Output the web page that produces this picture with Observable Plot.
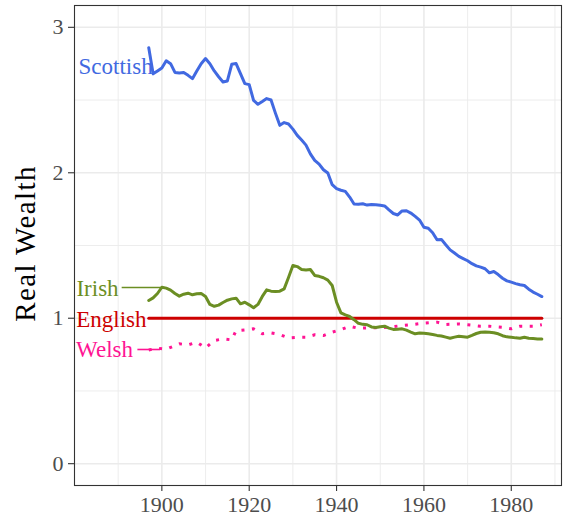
<!DOCTYPE html>
<html>
<head>
<meta charset="utf-8">
<script src="https://cdn.jsdelivr.net/npm/d3@7"></script>
<script src="https://cdn.jsdelivr.net/npm/@observablehq/plot@0.6"></script>
<style>
  html, body { margin: 0; padding: 0; background: #fff; }
  #chart { width: 563px; height: 523px; }
  #chart svg, #chart svg text { font-family: 'Liberation Serif', 'DejaVu Serif', serif !important; }
</style>
</head>
<body>
<div id="chart"></div>
<script>
// ---- data ----
const scotYears = [1897,1898,1899,1900,1901,1902,1903,1904,1905,1906,1907,1908,1909,1910,1911,1912,1913,1914,1915,1916,1917,1918,1919,1920,1921,1922,1923,1924,1925,1926,1927,1928,1929,1930,1931,1932,1933,1934,1935,1936,1937,1938,1939,1940,1941,1942,1943,1944,1945,1946,1947,1948,1949,1950,1951,1952,1953,1954,1955,1956,1957,1958,1959,1960,1961,1962,1963,1964,1965,1966,1967,1968,1969,1970,1971,1972,1973,1974,1975,1976,1977,1978,1979,1980,1981,1982,1983,1984,1985,1986,1987];
const scotValues = [2.86,2.68,2.70,2.72,2.77,2.75,2.69,2.686,2.689,2.67,2.647,2.70,2.75,2.785,2.75,2.70,2.66,2.624,2.631,2.746,2.751,2.682,2.613,2.606,2.498,2.471,2.49,2.51,2.50,2.41,2.326,2.345,2.335,2.30,2.257,2.225,2.19,2.13,2.085,2.06,2.021,1.998,1.918,1.891,1.88,1.872,1.833,1.785,1.783,1.787,1.778,1.782,1.78,1.776,1.772,1.745,1.72,1.71,1.738,1.739,1.723,1.70,1.675,1.626,1.619,1.588,1.54,1.542,1.505,1.47,1.448,1.425,1.41,1.395,1.375,1.36,1.351,1.34,1.312,1.321,1.30,1.275,1.257,1.248,1.238,1.23,1.225,1.20,1.18,1.165,1.149];

const irishYears = scotYears;
const irishValues = [1.122,1.14,1.17,1.213,1.207,1.193,1.17,1.152,1.165,1.172,1.161,1.168,1.17,1.15,1.095,1.082,1.09,1.108,1.124,1.133,1.138,1.099,1.11,1.092,1.072,1.095,1.15,1.195,1.186,1.183,1.186,1.202,1.28,1.363,1.355,1.335,1.332,1.335,1.294,1.288,1.278,1.262,1.225,1.11,1.037,1.023,1.012,0.99,0.965,0.958,0.955,0.94,0.936,0.942,0.945,0.932,0.923,0.925,0.927,0.918,0.905,0.893,0.898,0.897,0.893,0.888,0.882,0.878,0.87,0.862,0.87,0.876,0.873,0.87,0.882,0.895,0.904,0.905,0.904,0.9,0.893,0.88,0.872,0.869,0.865,0.862,0.869,0.862,0.86,0.858,0.858];

const englishYears = [1897, 1987];
const englishValues = [1, 1];

const welshYears = [1897,1899,1901,1904,1906,1908,1910,1912,1914,1916,1917,1919,1921,1923,1925,1927,1929,1931,1933,1935,1937,1939,1941,1943,1945,1948,1950,1952,1955,1957,1960,1963,1965,1968,1970,1973,1975,1978,1980,1982,1985,1987];
const welshValues = [0.782,0.794,0.787,0.824,0.817,0.835,0.796,0.847,0.858,0.851,0.915,0.92,0.927,0.893,0.899,0.888,0.865,0.869,0.869,0.886,0.881,0.904,0.922,0.945,0.931,0.934,0.934,0.938,0.95,0.955,0.966,0.973,0.957,0.961,0.955,0.945,0.945,0.938,0.927,0.945,0.945,0.955];

const seriesNames = ["Scottish", "Irish", "English", "Welsh"];
const seriesColors = ["#4169E1", "#6B8E23", "#CD0000", "#FF1493"];

// label placement (data units): right end of text and vertical centre
const labelYears = [1897.9, 1890.1, 1896.5, 1893.4];
const labelValues = [2.728, 1.206, 0.99, 0.781];

// leader segments (Irish, Welsh)
const leaderNames = ["Irish", "Welsh"];
const leaderYear1 = [1890.8, 1894.4];
const leaderYear2 = [1899.9, 1899.6];
const leaderValues = [1.211, 0.785];

const xMajorTicks = [1900, 1920, 1940, 1960, 1980];
const xMinorTicks = [1890, 1910, 1930, 1950, 1970, 1990];
const yMajorTicks = [0, 1, 2, 3];
const yMinorTicks = [0.5, 1.5, 2.5];
const yTitle = "Real Wealth";

// ---- build ----
const colorOf = Object.fromEntries(seriesNames.map((n, i) => [n, seriesColors[i]]));
const toRows = (years, values) => years.map((y, i) => ({year: y, value: values[i]}));
const scot = toRows(scotYears, scotValues);
const irish = toRows(irishYears, irishValues);
const english = toRows(englishYears, englishValues);
const welsh = toRows(welshYears, welshValues);
const labels = seriesNames.map((n, i) => ({name: n, year: labelYears[i], value: labelValues[i], color: seriesColors[i]}));
const leaders = leaderNames.map((n, i) => ({name: n, x1: leaderYear1[i], x2: leaderYear2[i], y: leaderValues[i], color: colorOf[n]}));

const FONT = "'Liberation Serif', 'DejaVu Serif', serif";
const GRID = "#ebebeb";

const chart = Plot.plot({
  width: 563,
  height: 523,
  marginLeft: 74,
  marginRight: 2,
  marginTop: 5,
  marginBottom: 38,
  style: {fontFamily: FONT, background: "#fff", overflow: "visible"},
  x: {domain: [1880, 1991.5], label: null},
  y: {domain: [-0.15, 3.15], label: null},
  color: {type: "identity"},
  marks: [
    Plot.gridX(xMinorTicks, {stroke: GRID, strokeOpacity: 1, strokeWidth: 0.9}),
    Plot.gridX(xMajorTicks, {stroke: GRID, strokeOpacity: 1, strokeWidth: 1.6}),
    Plot.gridY(yMinorTicks, {stroke: GRID, strokeOpacity: 1, strokeWidth: 0.9}),
    Plot.gridY(yMajorTicks, {stroke: GRID, strokeOpacity: 1, strokeWidth: 1.6}),
    Plot.frame({stroke: "#333", strokeWidth: 1.1}),
    Plot.axisX(xMajorTicks, {tickSize: 6, tickPadding: 5, fontSize: 22, fontFamily: FONT, stroke: "#333", fill: "#4d4d4d", strokeWidth: 1.1, label: null, tickFormat: d => String(d)}),
    Plot.axisY(yMajorTicks, {tickSize: 6, tickPadding: 5, fontSize: 22, fontFamily: FONT, stroke: "#333", fill: "#4d4d4d", strokeWidth: 1.1, label: null, tickFormat: d => String(d)}),
    Plot.line(english, {x: "year", y: "value", stroke: colorOf.English, strokeWidth: 3}),
    Plot.line(welsh, {x: "year", y: "value", stroke: colorOf.Welsh, strokeWidth: 3, strokeDasharray: "3,7.5", strokeLinecap: "butt"}),
    Plot.line(irish, {x: "year", y: "value", stroke: colorOf.Irish, strokeWidth: 3, strokeLinejoin: "round"}),
    Plot.line(scot, {x: "year", y: "value", stroke: colorOf.Scottish, strokeWidth: 3, strokeLinejoin: "round"}),
    Plot.link(leaders, {x1: "x1", x2: "x2", y1: "y", y2: "y", stroke: "color", strokeWidth: 1.6}),
    Plot.text(labels, {x: "year", y: "value", text: "name", fill: "color", textAnchor: "end", lineAnchor: "middle", fontSize: 23, fontFamily: FONT}),
    Plot.text([yTitle], {frameAnchor: "left", rotate: -90, dx: -40, dy: -2, lineAnchor: "bottom", textAnchor: "middle", fontSize: 29, fontFamily: FONT, fill: "#000"})
  ]
});
// slightly widen the axis title's tracking to match the reference's wider typeface
d3.select(chart).selectAll("text").filter(function () { return this.textContent === yTitle; })
  .style("letter-spacing", "1.4px");
document.getElementById("chart").appendChild(chart);
</script>
</body>
</html>
